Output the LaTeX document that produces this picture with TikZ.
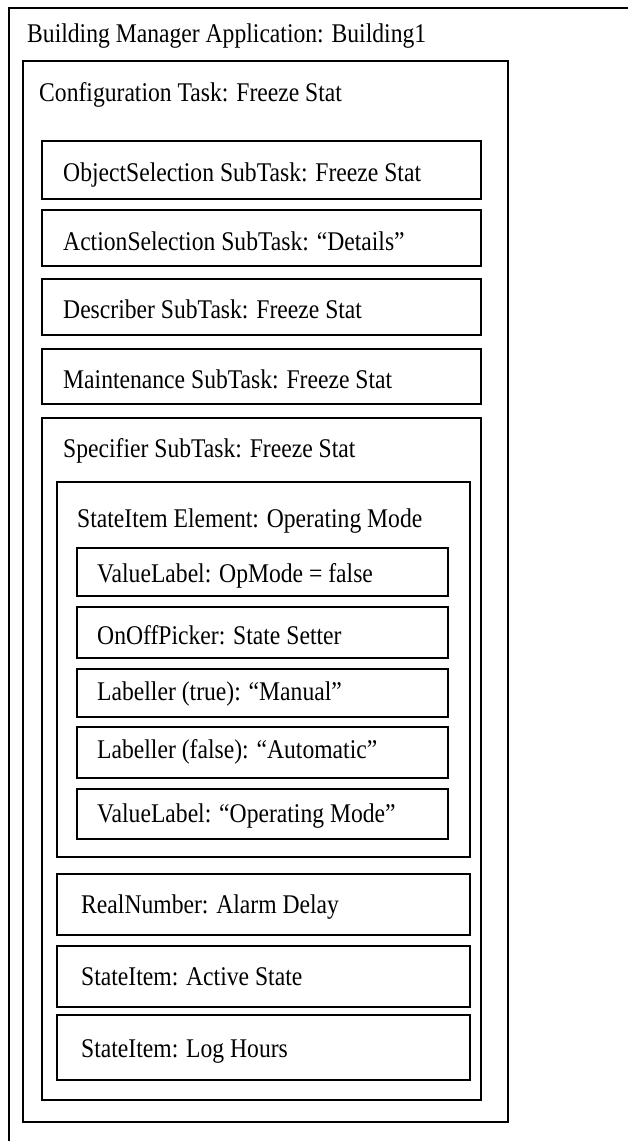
\documentclass[tikz,border=0pt]{standalone}
\usepackage{fontspec}
\usepackage{graphicx}
\setmainfont{Liberation Serif}
\tikzset{
  box/.style={draw, line width=1.3pt, rectangle, anchor=north west, inner sep=0pt, outer sep=0pt},
  lbl/.style={anchor=base west, inner sep=0pt, font=\fontsize{27}{30}\selectfont}
}
\newcommand{\bx}[5]{\node[box, minimum width=#4-#2, minimum height=#5-#3] (#1) at (#2,#3) {};}
\newcommand{\tx}[1]{\scalebox{0.875}[1]{#1}}
\begin{document}
\begin{tikzpicture}[x=1pt,y=-1pt]
\useasboundingbox (0,0) rectangle (628,1141);
\clip (0,0) rectangle (628,1141);
\fill[white] (0,0) rectangle (628,1141);
\bx{app}{9}{8}{660}{1180}
\node[lbl] (tapp) at (27,42) {\tx{Building Manager Application: Building1}};
\bx{cfg}{23}{61}{508}{1122}
\node[lbl] (tcfg) at (39,101) {\tx{Configuration Task: Freeze Stat}};
\bx{obj}{42}{141}{481}{199}
\node[lbl] (tobj) at (63,181) {\tx{ObjectSelection SubTask: Freeze Stat}};
\bx{act}{42}{210}{481}{266}
\node[lbl] (tact) at (63,250) {\tx{ActionSelection SubTask: ``Details''}};
\bx{des}{42}{279}{481}{335}
\node[lbl] (tdes) at (63,318) {\tx{Describer SubTask: Freeze Stat}};
\bx{mai}{42}{349}{481}{404}
\node[lbl] (tmai) at (63,388) {\tx{Maintenance SubTask: Freeze Stat}};
\bx{spe}{42}{418}{481}{1100}
\node[lbl] (tspe) at (63,457) {\tx{Specifier SubTask: Freeze Stat}};
\bx{sie}{57}{482}{470}{857}
\node[lbl] (tsie) at (77,527) {\tx{StateItem Element: Operating Mode}};
\bx{vl1}{77}{548}{448}{596}
\node[lbl] (tvl1) at (97,582) {\tx{ValueLabel: OpMode = false}};
\bx{oop}{77}{607}{448}{658}
\node[lbl] (toop) at (97,644) {\tx{OnOffPicker: State Setter}};
\bx{lbt}{77}{669}{448}{717}
\node[lbl] (tlbt) at (97,700) {\tx{Labeller (true): ``Manual''}};
\bx{lbf}{77}{727}{448}{778}
\node[lbl] (tlbf) at (97,758) {\tx{Labeller (false): ``Automatic''}};
\bx{vl2}{77}{789}{448}{839}
\node[lbl] (tvl2) at (97,822) {\tx{ValueLabel: ``Operating Mode''}};
\bx{rn}{57}{874}{470}{935}
\node[lbl] (trn) at (81,913) {\tx{RealNumber: Alarm Delay}};
\bx{as}{57}{946}{470}{1007}
\node[lbl] (tas) at (81,985) {\tx{StateItem: Active State}};
\bx{lh}{57}{1015}{470}{1080}
\node[lbl] (tlh) at (81,1057) {\tx{StateItem: Log Hours}};
\end{tikzpicture}
\end{document}
